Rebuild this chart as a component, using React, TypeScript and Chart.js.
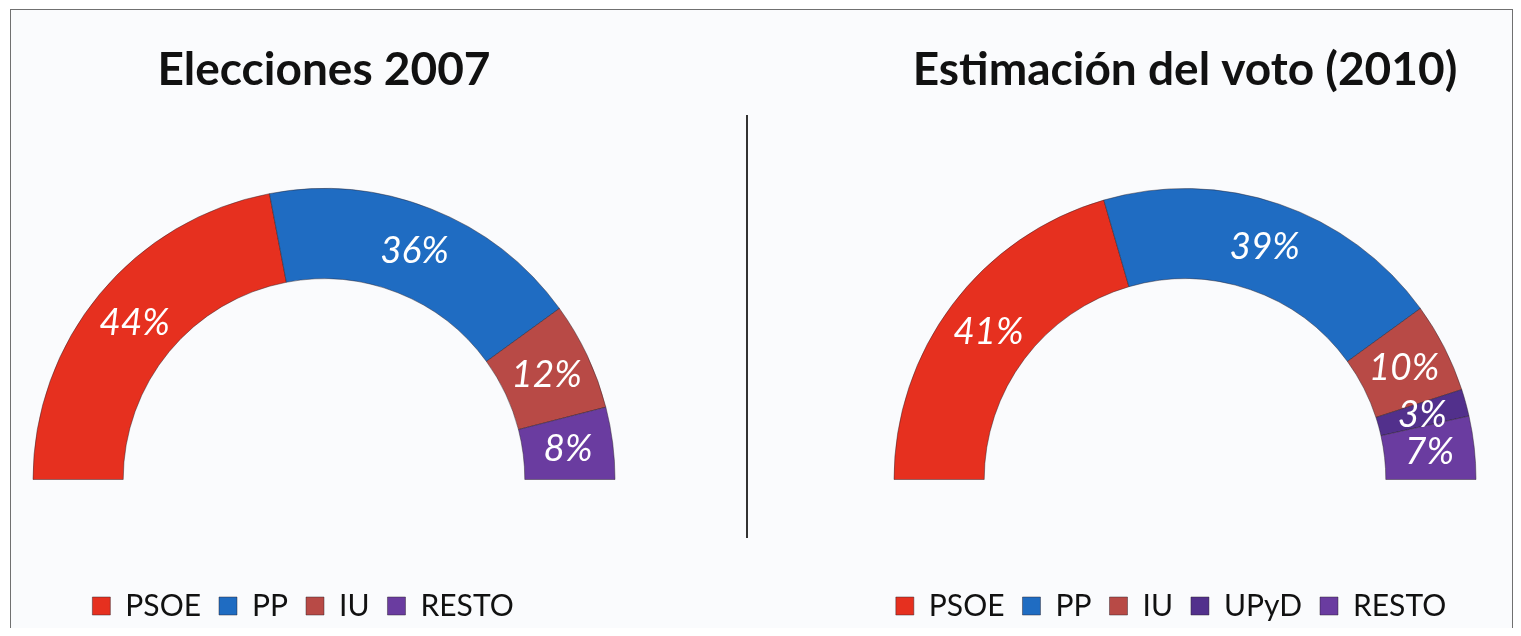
import React, { useEffect, useRef, useState } from "react";
import { Chart, registerables } from "chart.js";

Chart.register(...registerables);

// ---------- data ----------
const title2007 = "Elecciones 2007";
const parties2007 = ["PSOE", "PP", "IU", "RESTO"];
const votes2007 = [44, 36, 12, 8];
const colors2007 = ["#e6301f", "#1f6cc2", "#b84a46", "#6a3ca0"];

const title2010 = "Estimación del voto (2010)";
const parties2010 = ["PSOE", "PP", "IU", "UPyD", "RESTO"];
const votes2010 = [41, 39, 10, 3, 7];
const colors2010 = ["#e6301f", "#1f6cc2", "#b84a46", "#52308c", "#6a3ca0"];

const FONT = "Lato, 'Open Sans', 'DejaVu Sans', sans-serif";

const arcLabels = {
  id: "arcLabels",
  afterDatasetsDraw(chart: any) {
    const ctx = chart.ctx;
    const meta = chart.getDatasetMeta(0);
    const values = chart.data.datasets[0].data as number[];
    ctx.save();
    ctx.font = `italic 400 37px ${FONT}`;
    ctx.fillStyle = "#ffffff";
    ctx.textAlign = "center";
    ctx.textBaseline = "middle";
    meta.data.forEach((arc: any, i: number) => {
      const p = arc.getCenterPoint();
      ctx.fillText(`${values[i]}%`, p.x, p.y);
    });
    ctx.restore();
  },
};

function makeLegendShift(dx: number) {
  return {
    id: "legendShift",
    afterLayout(chart: any) {
      const lg = chart.legend;
      if (lg) {
        lg.left += dx;
        lg.right += dx;
      }
    },
  };
}

const CW = 700;
const CH = 626;

function HalfDonut(props: {
  title: string;
  labels: string[];
  values: number[];
  colors: string[];
  legendDx: number;
  left: number;
}) {
  const ref = useRef<HTMLCanvasElement | null>(null);
  const [err, setErr] = useState("");
  useEffect(() => {
    if (!ref.current) return;
    let chart: any = null;
    try {
      chart = new Chart(ref.current, {
        type: "doughnut",
        data: {
          labels: props.labels,
          datasets: [
            {
              data: props.values,
              backgroundColor: props.colors,
              borderColor: "rgba(40,30,40,0.45)",
              borderWidth: 1,
            },
          ],
        },
        options: {
          responsive: false,
          animation: false,
          rotation: -90,
          circumference: 180,
          cutout: "69%",
          layout: { padding: { left: 0, right: 0, top: 0, bottom: 5 } },
          plugins: {
            title: {
              display: true,
              text: props.title,
              color: "#111111",
              font: { family: FONT, size: 46, weight: "bold", lineHeight: 1.2 },
              padding: { top: 32.6, bottom: 90.2 },
            },
            legend: {
              position: "bottom",
              title: {
                display: true,
                text: "",
                font: { size: 10, lineHeight: 1.2 },
                padding: { top: 81, bottom: 0 },
              },
              labels: {
                boxWidth: 18,
                boxHeight: 18,
                padding: 18,
                color: "#111111",
                font: { family: FONT, size: 30 },
              },
            },
            tooltip: { enabled: false },
          },
        } as any,
        plugins: [arcLabels, makeLegendShift(props.legendDx)],
      });
    } catch (e: any) {
      setErr(String(e && e.stack ? e.stack : e));
    }
    return () => {
      if (chart) chart.destroy();
    };
  }, []);
  return (
    <>
      <canvas
        ref={ref}
        width={CW}
        height={CH}
        style={{ position: "absolute", left: props.left, top: 2, width: CW, height: CH, display: "block" }}
      />
      {err ? (
        <pre style={{ position: "absolute", left: 40, top: 300, fontSize: 12, color: "red" }}>{err}</pre>
      ) : null}
    </>
  );
}

export default function App() {
  return (
    <div style={{ position: "relative", width: 1505, height: 620 }}>
      <div
        style={{
          position: "absolute",
          left: 2,
          top: 1,
          width: 1503,
          height: 619,
          boxSizing: "border-box",
          border: "1.5px solid #707070",
          borderBottom: "none",
          background: "#fafbfd",
        }}
      />
      <div
        style={{
          position: "absolute",
          left: 738,
          top: 107,
          width: 1.5,
          height: 423,
          background: "#333333",
        }}
      />
      <HalfDonut title={title2007} labels={parties2007} values={votes2007} colors={colors2007} legendDx={-21} left={324 - CW / 2 - 8} />
      <HalfDonut title={title2010} labels={parties2010} values={votes2010} colors={colors2010} legendDx={-14} left={1185 - CW / 2 - 8} />
    </div>
  );
}
